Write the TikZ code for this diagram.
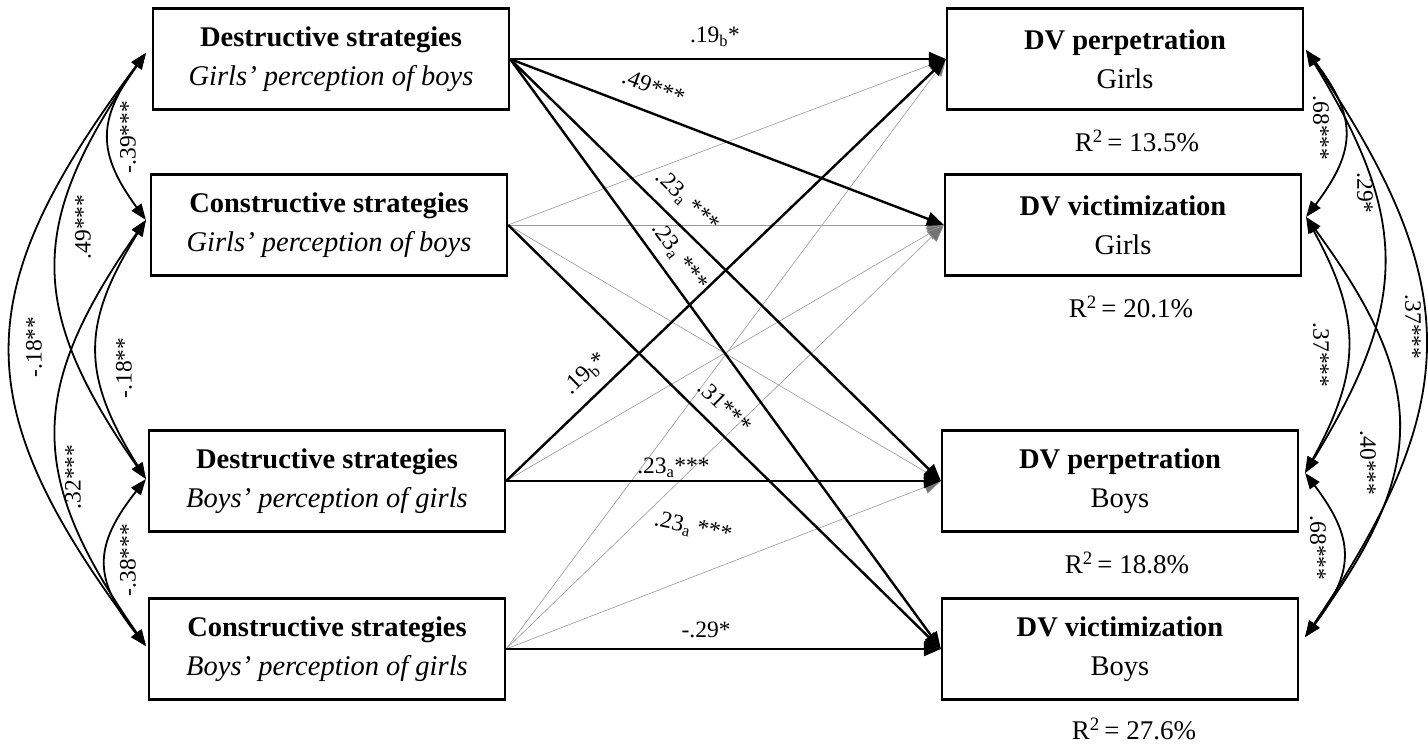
\documentclass[tikz,border=0pt]{standalone}
\usepackage{fontspec}
\setmainfont{Liberation Serif}
\usetikzlibrary{arrows.meta,calc}
\begin{document}
\begin{tikzpicture}[x=1pt,y=-1pt,
  box/.style={draw,line width=2.2pt,minimum width=356pt,minimum height=101pt,align=center,inner sep=0pt,font=\fontsize{28.5}{39}\selectfont},
  strongpath/.style={line width=2.4pt,-{Triangle[length=17pt,width=14pt]}},
  weakpath/.style={line width=0.6pt,draw=black!40,-{Triangle[length=17pt,width=14pt,fill=black!55]}},
  cov/.style={line width=1.8pt,{Triangle[length=16pt,width=12pt]}-{Triangle[length=16pt,width=12pt]}},
  lab/.style={font=\fontsize{23.5}{27}\selectfont,inner sep=1pt},
  rsq/.style={font=\fontsize{27}{30}\selectfont,inner sep=0pt}
]
\useasboundingbox (0,0) rectangle (1428,744);

% boxes
\node[box] (L1) at (331,59)  {\textbf{Destructive strategies}\\\textit{Girls' perception of boys}};
\node[box] (L2) at (329,225) {\textbf{Constructive strategies}\\\textit{Girls' perception of boys}};
\node[box] (L3) at (327,481) {\textbf{Destructive strategies}\\\textit{Boys' perception of girls}};
\node[box] (L4) at (327,649) {\textbf{Constructive strategies}\\\textit{Boys' perception of girls}};
\node[box] (R1) at (1125,59)  {\textbf{DV perpetration}\\Girls};
\node[box] (R2) at (1123,225) {\textbf{DV victimization}\\Girls};
\node[box] (R3) at (1120,481) {\textbf{DV perpetration}\\Boys};
\node[box] (R4) at (1120,649) {\textbf{DV victimization}\\Boys};

% R squared
\node[rsq] (q1) at ($(R1.south)+(12,30)$) {R\textsuperscript{2}\,= 13.5\%};
\node[rsq] (q2) at ($(R2.south)+(8,30)$) {R\textsuperscript{2}\,= 20.1\%};
\node[rsq] (q3) at ($(R3.south)+(7,30)$) {R\textsuperscript{2}\,= 18.8\%};
\node[rsq] (q4) at ($(R4.south)+(14,28)$) {R\textsuperscript{2}\,= 27.6\%};

% non-significant paths
\draw[weakpath] (L2.east) -- (R1.west);
\draw[weakpath] (L2.east) -- (R2.west);
\draw[weakpath] (L2.east) -- (R3.west);
\draw[weakpath] (L3.east) -- (R2.west);
\draw[weakpath] (L4.east) -- (R1.west);
\draw[weakpath] (L4.east) -- (R2.west);
\draw[weakpath] (L4.east) -- (R3.west);

% significant paths
\draw[strongpath] (L1.east) -- node[lab,pos=0.47,above=10pt] {.19\textsubscript{b}*} (R1.west);
\draw[strongpath] (L1.east) -- node[lab,sloped,pos=0.31,above=15pt] {.49***} (R2.west);
\draw[strongpath] (L1.east) -- node[lab,sloped,pos=0.375,above=10pt] {.23\textsubscript{a} ***} (R3.west);
\draw[strongpath] (L1.east) -- node[lab,sloped,pos=0.355,above=8pt] {.23\textsubscript{a} ***} (R4.west);
\draw[strongpath] (L2.east) -- node[lab,sloped,pos=0.465,above=12pt] {.31***} (R4.west);
\draw[strongpath] (L3.east) -- node[lab,sloped,pos=0.215,above=10pt] {.19\textsubscript{b}*} (R1.west);
\draw[strongpath] (L3.east) -- node[lab,pos=0.385,above=1pt] {.23\textsubscript{a}***} (R3.west);
\draw[strongpath] (L4.east) -- node[lab,pos=0.46,above=9pt] {-.29*} (R4.west);
\node[lab,rotate=-12] (fl) at (693,528) {.23\textsubscript{a} ***};

% covariance end points
\coordinate (l1) at ($(L1.west)+(-6,-6)$);
\coordinate (l2) at ($(L2.west)+(-4,-5)$);
\coordinate (l3) at ($(L3.west)+(-2,-2)$);
\coordinate (l4) at ($(L4.west)+(-2,-3)$);
\coordinate (r1) at ($(R1.east)+(2,-9)$);
\coordinate (r2) at ($(R2.east)+(4,-8)$);
\coordinate (r3) at ($(R3.east)+(6,-8)$);
\coordinate (r4) at ($(R4.east)+(6,-12)$);

% left covariances
\draw[cov] (l1) .. controls +(-49,67) and +(-49,-67) .. (l2);
\draw[cov] (l1) .. controls +(-119,170) and +(-119,-170) .. (l3);
\draw[cov] (l1) .. controls +(-180,240) and +(-180,-240) .. (l4);
\draw[cov] (l2) .. controls +(-65,104) and +(-65,-104) .. (l3);
\draw[cov] (l2) .. controls +(-119,170) and +(-119,-170) .. (l4);
\draw[cov] (l3) .. controls +(-53,67) and +(-53,-67) .. (l4);
\node[lab,rotate=90] (c12) at (128,137) {-.39***};
\node[lab,rotate=90] (c13) at (83,227) {.49***};
\node[lab,rotate=90] (c14) at (34,347) {-.18**};
\node[lab,rotate=90] (c23) at (124,368) {-.18**};
\node[lab,rotate=90] (c24) at (73,477) {.32***};
\node[lab,rotate=90] (c34) at (128,560) {-.38***};

% right covariances
\draw[cov] (r1) .. controls +(51,67) and +(51,-67) .. (r2);
\draw[cov] (r1) .. controls +(104,170) and +(104,-170) .. (r3);
\draw[cov] (r1) .. controls +(159,235) and +(159,-235) .. (r4);
\draw[cov] (r2) .. controls +(56,102) and +(56,-102) .. (r3);
\draw[cov] (r2) .. controls +(123,168) and +(123,-168) .. (r4);
\draw[cov] (r3) .. controls +(50,66) and +(50,-66) .. (r4);
\node[lab,rotate=-90] (d12) at (1321,128) {.68***};
\node[lab,rotate=-90] (d13) at (1365,193) {.29*};
\node[lab,rotate=-90] (d14) at (1413,327) {.37***};
\node[lab,rotate=-90] (d23) at (1321,355) {.37***};
\node[lab,rotate=-90] (d24) at (1368,463) {.40***};
\node[lab,rotate=-90] (d34) at (1318,548) {.68***};
\end{tikzpicture}
\end{document}
